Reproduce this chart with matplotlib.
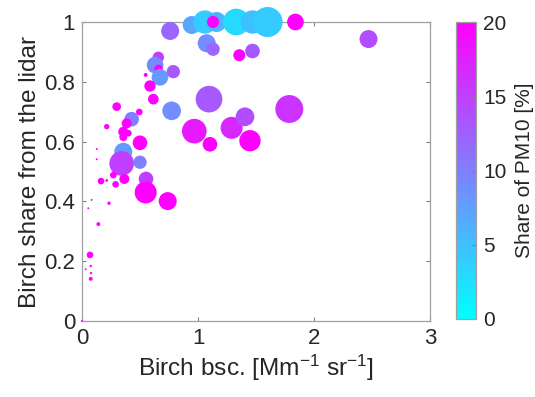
import matplotlib
matplotlib.use("Agg")
import matplotlib.pyplot as plt
import numpy as np

plt.rcParams['font.family'] = ['Liberation Sans', 'DejaVu Sans']
plt.rcParams['mathtext.fontset'] = 'custom'
plt.rcParams['mathtext.rm'] = 'Liberation Sans'
plt.rcParams['mathtext.it'] = 'Liberation Sans'
plt.rcParams['axes.unicode_minus'] = False

# data: birch backscatter, birch share, share of PM10 (%), marker size
bsc = [0.946, 1.06, 1.16, 1.33, 1.47, 1.60, 1.13, 1.84,
       0.76, 1.075, 1.13, 1.356, 1.47, 2.47,
       0.658, 0.63, 0.66, 0.672, 0.787, 0.549, 0.586, 0.615,
       1.095, 1.787, 0.773, 0.299, 0.494, 0.428, 0.385, 0.213, 0.356, 0.40, 0.356,
       0.968, 1.29, 1.405, 1.103, 1.448, 0.50,
       0.356, 0.127, 0.127, 0.342, 0.50,
       0.27, 0.164, 0.213, 0.29, 0.365, 0.552, 0.549, 0.739,
       0.083, 0.054, 0.233, 0.141, 0.069, 0.075, 0.032, 0.078, 0.075, 0.0]
share = [0.99, 1.0, 1.0, 1.0, 1.0, 1.0, 1.0, 1.0,
         0.97, 0.929, 0.909, 0.889, 0.903, 0.943,
         0.882, 0.856, 0.843, 0.815, 0.834, 0.823, 0.786, 0.742,
         0.742, 0.709, 0.703, 0.717, 0.699, 0.675, 0.661, 0.65, 0.633, 0.628, 0.615,
         0.635, 0.646, 0.683, 0.591, 0.603, 0.596,
         0.566, 0.575, 0.541, 0.527, 0.531,
         0.488, 0.468, 0.47, 0.457, 0.475, 0.475, 0.43, 0.401,
         0.405, 0.377, 0.394, 0.324, 0.221, 0.184, 0.173, 0.16, 0.141, 0.0]
pm10 = [7, 4, 6, 3, 5, 4, 20, 20,
        12, 9, 12, 20, 13, 14,
        15, 9, 20, 8, 13, 20, 20, 20,
        13, 16, 9, 20, 20, 10, 20, 20, 20, 20, 20,
        18, 17, 14, 20, 20, 20,
        8, 20, 20, 15, 10,
        20, 20, 20, 20, 20, 15, 20, 20,
        20, 20, 20, 20, 20, 20, 20, 20, 20, 20]
size = [168, 282, 207, 369, 282, 467, 75, 144,
        168, 168, 92, 75, 111, 168,
        67, 144, 39, 144, 92, 8, 67, 59,
        369, 404, 181, 39, 23, 111, 52, 15, 52, 23, 33,
        315, 251, 181, 111, 236, 111,
        168, 2, 2, 315, 92,
        23, 23, 4, 23, 52, 111, 251, 168,
        2, 2, 6, 8, 23, 3, 2, 3, 8, 2]

fig = plt.figure(figsize=(5.35, 3.97), dpi=100)
ax = fig.add_axes([82/535, 76/397, 348/535, 299/397])
cax = fig.add_axes([456/535, 78/397, 20/535, 297/397])

sc = ax.scatter(bsc, share, s=size, c=pm10, cmap='cool', vmin=0, vmax=20,
                edgecolors='none', clip_on=False, zorder=3)

ax.set_xlim(0, 3)
ax.set_ylim(0, 1)
ax.set_xticks([0, 1, 2, 3])
ax.set_yticks([0, 0.2, 0.4, 0.6, 0.8, 1])
ax.set_yticklabels(['0', '0.2', '0.4', '0.6', '0.8', '1'])
ax.tick_params(direction='in', top=True, right=True, length=3, width=0.8,
               color='#808080', labelcolor='#262626', labelsize=16, pad=5)
for sp in ax.spines.values():
    sp.set_color('#a0a0a0')
    sp.set_linewidth(0.9)
ax.set_xlabel(r'Birch bsc. [Mm$^{-1}$ sr$^{-1}$]', fontsize=17.6, color='#262626', labelpad=3)
ax.set_ylabel('Birch share from the lidar', fontsize=17.6, color='#262626', labelpad=2)

cb = fig.colorbar(sc, cax=cax, ticks=[0, 5, 10, 15, 20])
cb.outline.set_edgecolor('#a0a0a0')
cb.outline.set_linewidth(0.9)
cax.tick_params(direction='in', length=3, color='#808080', labelcolor='#262626', labelsize=15, pad=5)
cb.set_label('Share of PM10 [%]', fontsize=15, color='#262626', labelpad=6)

fig.savefig('out.png', dpi=100)
